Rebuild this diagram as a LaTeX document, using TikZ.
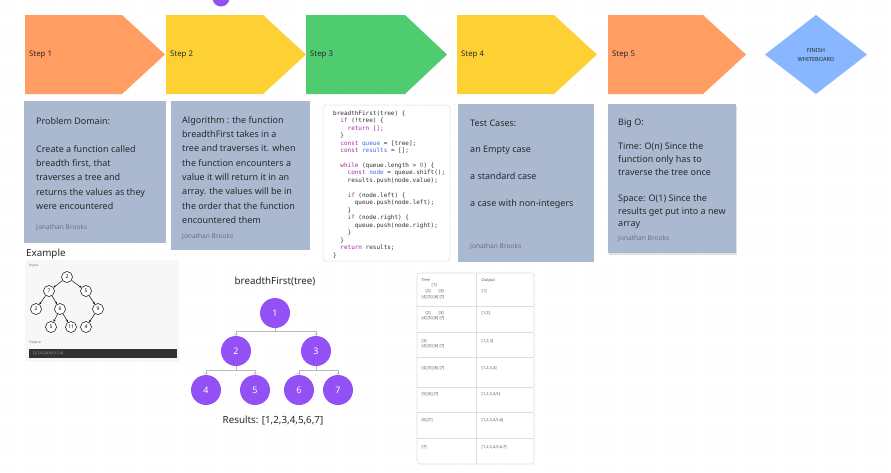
\documentclass[tikz,border=0pt]{standalone}
\usepackage{fontspec}
\setmainfont{Noto Sans}
\setmonofont{DejaVu Sans Mono}
\usetikzlibrary{arrows.meta}
\definecolor{bgdot}{RGB}{225,225,225}
\definecolor{orangeS}{RGB}{255,157,98}
\definecolor{yellowS}{RGB}{253,209,51}
\definecolor{greenS}{RGB}{80,204,112}
\definecolor{blueS}{RGB}{136,183,255}
\definecolor{noteS}{RGB}{171,185,208}
\definecolor{txt}{RGB}{40,40,45}
\definecolor{author}{RGB}{105,112,128}
\definecolor{purp}{RGB}{146,80,245}
\definecolor{kw}{RGB}{166,38,164}
\definecolor{vr}{RGB}{64,100,240}
\definecolor{num}{RGB}{80,161,79}
\definecolor{codetxt}{RGB}{45,45,50}
\definecolor{linegray}{RGB}{222,222,222}
\definecolor{conngray}{RGB}{185,185,185}
\newcommand{\kwc}[1]{\textcolor{kw}{#1}}
\newcommand{\vrc}[1]{\textcolor{vr}{#1}}
\newcommand{\nmc}[1]{\textcolor{num}{#1}}
\begin{document}
\begin{tikzpicture}[x=1pt,y=-1pt,
  steplbl/.style={font=\fontsize{7.8}{9}\selectfont, text=txt, anchor=west, inner sep=0},
  notetext/.style={font=\fontsize{9}{11}\selectfont, text=txt, anchor=base west, inner sep=0},
  authortext/.style={font=\fontsize{6.6}{8}\selectfont, text=author, anchor=base west, inner sep=0},
  codeline/.style={font=\ttfamily\fontsize{6}{7}\selectfont, text=codetxt, anchor=base west, inner sep=0},
  bignode/.style={circle, fill=purp, minimum size=30, inner sep=0, text=white, font=\fontsize{9}{10}\selectfont},
  exnode/.style={circle, draw=black, line width=0.5pt, fill=white, minimum size=11, inner sep=0, font=\fontsize{5}{6}\selectfont},
  exarrow/.style={draw=black, line width=0.45pt, -{Stealth[length=2.4pt,width=2pt]}},
  conn/.style={draw=conngray, line width=0.6pt, -{Straight Barb[length=1.6pt,width=3.5pt]}},
  tabtext/.style={font=\fontsize{4}{5}\selectfont, text=txt!80, anchor=base west, inner sep=0},
  heading/.style={font=\fontsize{9.8}{11}\selectfont, text=txt, inner sep=0}
]
\useasboundingbox (0,0) rectangle (891,472);
\fill[white] (0,0) rectangle (891,472);
\foreach \i in {0,...,88} \foreach \j in {0,...,46} \fill[bgdot] (5+10*\i, 5+10*\j) circle (0.7pt);

% purple dot at top
\fill[purp] (221,-2) circle (8.5pt);

% steps
\fill[orangeS] (25,15) -- (122,15) -- (165,54.5) -- (122,94) -- (25,94) -- cycle;
\node[steplbl] (s1) at (29,54.5) {Step 1};
\fill[yellowS] (166,15) -- (263,15) -- (306,54.5) -- (263,94) -- (166,94) -- cycle;
\node[steplbl] (s2) at (170,54.5) {Step 2};
\fill[greenS] (306,15) -- (405,15) -- (447,54.5) -- (405,94) -- (306,94) -- cycle;
\node[steplbl] (s3) at (310,54.5) {Step 3};
\fill[yellowS] (457,15) -- (554,15) -- (597,54.5) -- (554,94) -- (457,94) -- cycle;
\node[steplbl] (s4) at (461,54.5) {Step 4};
\fill[orangeS] (608,15) -- (703,15) -- (746,54.5) -- (703,94) -- (608,94) -- cycle;
\node[steplbl] (s5) at (612,54.5) {Step 5};
\fill[blueS] (765,54.5) -- (816,15) -- (867,54.5) -- (816,94) -- cycle;
\node[font=\fontsize{5.6}{9}\selectfont, text=txt, align=center, inner sep=0] (fin) at (816,54.5) {FINISH\\WHITEBOARD};

% note 1
\fill[noteS] (24,101) rectangle (166,243);
\foreach \y/\t [count=\k] in {124/{Problem Domain:}, 152.2/{Create a function called}, 166.5/{breadth first, that}, 180.8/{traverses a tree and}, 195.1/{returns the values as they}, 209.4/{were encountered}}
  \node[notetext] (pa\k) at (36,\y) {\t};
\node[authortext] (au1) at (36,229.3) {Jonathan Brooks};

% note 2
\fill[noteS] (171,101) rectangle (310,250);
\foreach \y/\t [count=\k] in {123.2/{Algorithm : the function}, 137.5/{breadthFirst takes in a}, 151.8/{tree and traverses it. when}, 166.1/{the function encounters a}, 180.4/{value it will return it in an}, 194.7/{array. the values will be in}, 209/{the order that the function}, 223.3/{encountered them}}
  \node[notetext] (pb\k) at (182,\y) {\t};
\node[authortext] (au2) at (182,238.7) {Jonathan Brooks};

% code block
\filldraw[fill=white, draw=linegray, line width=0.5pt, rounded corners=3pt] (323,105) rectangle (450,261);
\def\cw{3.612}
\node[codeline] (c1) at (333,115.2) {breadthFirst(tree) \{};
\node[codeline] (c2) at (333+2*\cw,122.67) {\kwc{if} (!tree) \{};
\node[codeline] (c3) at (333+4*\cw,130.14) {\kwc{return []}\kwc{;}};
\node[codeline] (c4) at (333+2*\cw,137.61) {\}};
\node[codeline] (c5) at (333+2*\cw,145.08) {\kwc{const} \vrc{queue} = [tree];};
\node[codeline] (c6) at (333+2*\cw,152.55) {\kwc{const} \vrc{results} = [];};
\node[codeline] (c8) at (333+2*\cw,167.49) {\kwc{while} (queue.length > \nmc{0}) \{};
\node[codeline] (c9) at (333+4*\cw,174.96) {\kwc{const} \vrc{node} = queue.shift();};
\node[codeline] (c10) at (333+4*\cw,182.43) {results.push(node.value);};
\node[codeline] (c12) at (333+4*\cw,197.37) {\kwc{if} (node.left) \{};
\node[codeline] (c13) at (333+6*\cw,204.84) {queue.push(node.left);};
\node[codeline] (c14) at (333+4*\cw,212.31) {\}};
\node[codeline] (c15) at (333+4*\cw,219.78) {\kwc{if} (node.right) \{};
\node[codeline] (c16) at (333+6*\cw,227.25) {queue.push(node.right);};
\node[codeline] (c17) at (333+4*\cw,234.72) {\}};
\node[codeline] (c18) at (333+2*\cw,242.19) {\}};
\node[codeline] (c19) at (333+2*\cw,249.66) {\kwc{return} results;};
\node[codeline] (c20) at (333,257.13) {\}};

% note 4
\fill[noteS] (458,104) rectangle (594,262);
\foreach \y/\t [count=\k] in {126.2/{Test Cases:}, 152.2/{an Empty case}, 179.2/{a standard case}, 206.2/{a case with non-integers}}
  \node[notetext] (pd\k) at (470,\y) {\t};
\node[authortext] (au4) at (470,248.5) {Jonathan Brooks};

% note 5
\fill[black!12] (609,105.5) rectangle (737,254.5);
\fill[noteS] (608,104) rectangle (736,253);
\foreach \y/\t [count=\k] in {125.2/{Big O:}, 149.2/{Time: O(n) Since the}, 162.2/{function only has to}, 175.2/{traverse the tree once}, 201.2/{Space: O(1) Since the}, 214.2/{results get put into a new}, 226.7/{array}}
  \node[notetext] (pe\k) at (618,\y) {\t};
\node[authortext] (au5) at (618,240.5) {Jonathan Brooks};

% example
\node[heading, anchor=west] (exh) at (26,254) {Example};
\fill[black!3] (25,260) rectangle (179,362);
\node[font=\fontsize{3.5}{4}\selectfont, text=black!55, anchor=west, inner sep=0] (inp) at (29,265.5) {Input};
\node[exnode] (e1) at (67,277) {2};
\node[exnode] (e2) at (49,291) {7};
\node[exnode] (e3) at (86,291) {5};
\node[exnode] (e4) at (36,309) {2};
\node[exnode] (e5) at (60,309) {6};
\node[exnode] (e6) at (98,309) {9};
\node[exnode] (e7) at (51,327) {5};
\node[exnode] (e8) at (71,327) {11};
\node[exnode] (e9) at (86,327) {4};
\draw[exarrow] (e1) -- (e2);
\draw[exarrow] (e1) -- (e3);
\draw[exarrow] (e2) -- (e4);
\draw[exarrow] (e2) -- (e5);
\draw[exarrow] (e3) -- (e6);
\draw[exarrow] (e5) -- (e7);
\draw[exarrow] (e5) -- (e8);
\draw[exarrow] (e6) -- (e9);
\node[font=\fontsize{3.5}{4}\selectfont, text=black!55, anchor=west, inner sep=0] (outl) at (29,343) {Output};
\fill[black!80] (29,349) rectangle (177,358);
\node[font=\fontsize{3.5}{4}\selectfont, text=black!30, anchor=west, inner sep=0] (outv) at (33,353.5) {[2,7,5,2,6,9,5,11,4]};

% breadthFirst tree
\node[heading] (bft) at (275,282) {breadthFirst(tree)};
\node[bignode] (n1) at (275,313) {1};
\node[bignode] (n2) at (236,351) {2};
\node[bignode] (n3) at (316,351) {3};
\node[bignode] (n4) at (206,390) {4};
\node[bignode] (n5) at (255,390) {5};
\node[bignode] (n6) at (299,390) {6};
\node[bignode] (n7) at (338,390) {7};
\draw[conn] (n1.south) -- ++(0,3.5) -| (n2.north);
\draw[conn] (n1.south) -- ++(0,3.5) -| (n3.north);
\draw[conn] (n2.south) -- ++(0,4) -| (n4.north);
\draw[conn] (n2.south) -- ++(0,4) -| (n5.north);
\draw[conn] (n3.south) -- ++(0,4) -| (n6.north);
\draw[conn] (n3.south) -- ++(0,4) -| (n7.north);
\node[heading] (res) at (273,421) {Results: [1,2,3,4,5,6,7]};

% table
\filldraw[fill=white, draw=linegray, line width=0.6pt, rounded corners=3pt] (417,273) rectangle (534,464);
\draw[linegray, line width=0.6pt] (476,273) -- (476,464);
\foreach \yy in {306,332,357.5,387,412.5,438.5}
  \draw[linegray, line width=0.6pt] (417,\yy) -- (534,\yy);
\node[tabtext] (th1) at (421.5,281.4) {Tree};
\node[tabtext] (th2) at (481.5,281.4) {Output};
\node[tabtext] (r1a) at (431.5,286.4) {[1]};
\node[tabtext] (r1b) at (425.5,292.4) {[2]};
\node[tabtext] (r1c) at (438.5,292.4) {[3]};
\node[tabtext] (r1d) at (421.5,298.4) {[4] [5] [6] [7]};
\node[tabtext] (r1o) at (481.5,292.4) {[1]};
\node[tabtext] (r2b) at (425.5,314.4) {[2]};
\node[tabtext] (r2c) at (438.5,314.4) {[3]};
\node[tabtext] (r2d) at (421.5,319.9) {[4] [5] [6] [7]};
\node[tabtext] (r2o) at (481.5,314.4) {[1,2]};
\node[tabtext] (r3c) at (421.5,342.4) {[3]};
\node[tabtext] (r3d) at (421.5,347.9) {[4] [5] [6] [7]};
\node[tabtext] (r3o) at (481.5,342.4) {[1,2,3]};
\node[tabtext] (r4d) at (421.5,369.4) {[4] [5] [6] [7]};
\node[tabtext] (r4o) at (481.5,369.4) {[1,2,3,4]};
\node[tabtext] (r5d) at (421.5,395.4) {[5] [6] [7]};
\node[tabtext] (r5o) at (481.5,395.4) {[1,2,3,4,5]};
\node[tabtext] (r6d) at (421.5,421.4) {[6] [7]};
\node[tabtext] (r6o) at (481.5,421.4) {[1,2,3,4,5,6]};
\node[tabtext] (r7d) at (421.5,448.4) {[7]};
\node[tabtext] (r7o) at (481.5,448.4) {[1,2,3,4,5,6,7]};
\end{tikzpicture}
\end{document}
